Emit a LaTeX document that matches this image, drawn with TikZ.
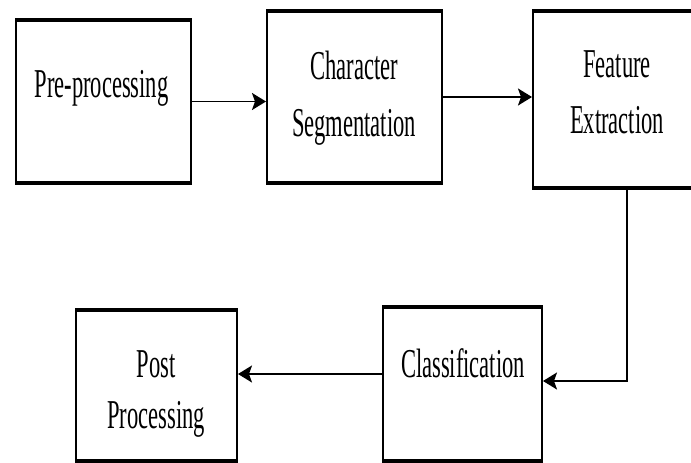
\documentclass[tikz,border=0pt]{standalone}
\usepackage{fontspec}
\setmainfont{Liberation Serif}
\usetikzlibrary{arrows.meta}
\tikzset{
  box/.style={draw=black, line width=2pt, inner sep=0pt, fill=white},
  lbl/.style={font=\fontsize{41}{56}\selectfont, align=center, xscale=0.55, transform shape, inner sep=0pt, anchor=base, text=black},
  arr/.style={line width=1.8pt, -{Stealth[length=14pt,width=17pt,inset=3pt]}},
  rim/.style={line width=4.5pt}
}
\newcommand{\rims}[1]{\draw[rim] (#1.north west) -- (#1.north east); \draw[rim] (#1.south west) -- (#1.south east);}
\begin{document}
\begin{tikzpicture}[x=1pt,y=-1pt]
\useasboundingbox (0,0) rectangle (691,463);
\fill[white] (0,0) rectangle (691,463);
\clip (0,0) rectangle (691,463);
% boxes
\node[box, minimum width=175pt, minimum height=161pt] (pre) at (103.5,101.5) {};
\node[box, minimum width=175pt, minimum height=170pt] (cs) at (354.5,97) {};
\node[box, minimum width=168pt, minimum height=175pt] (fe) at (617,99.5) {};
\node[box, minimum width=159pt, minimum height=152pt] (cl) at (462.5,384) {};
\node[box, minimum width=161pt, minimum height=149pt] (pp) at (156.5,385.5) {};
\rims{pre}\rims{cs}\rims{fe}\rims{cl}\rims{pp}
% labels
\node[lbl] (preT) at (101.5,97) {Pre-processing};
\node[lbl] (csT1) at (354,79) {Character};
\node[lbl] (csT2) at (354,136) {Segmentation};
\node[lbl] (feT1) at (617,77) {Feature};
\node[lbl] (feT2) at (617,133) {Extraction};
\node[lbl] (clT) at (463,377) {Classification};
\node[lbl] (ppT1) at (156,377) {Post};
\node[lbl] (ppT2) at (156,428) {Processing};
% connectors
\draw[arr] (pre.east) -- (pre.east -| cs.west);
\draw[arr] (cs.east) -- (cs.east -| fe.west);
\draw[arr] ([xshift=10pt]fe.south) |- ([yshift=3pt]cl.east);
\draw[arr] ([yshift=10pt]cl.west) -- ([yshift=10pt]cl.west -| pp.east);
\end{tikzpicture}
\end{document}
